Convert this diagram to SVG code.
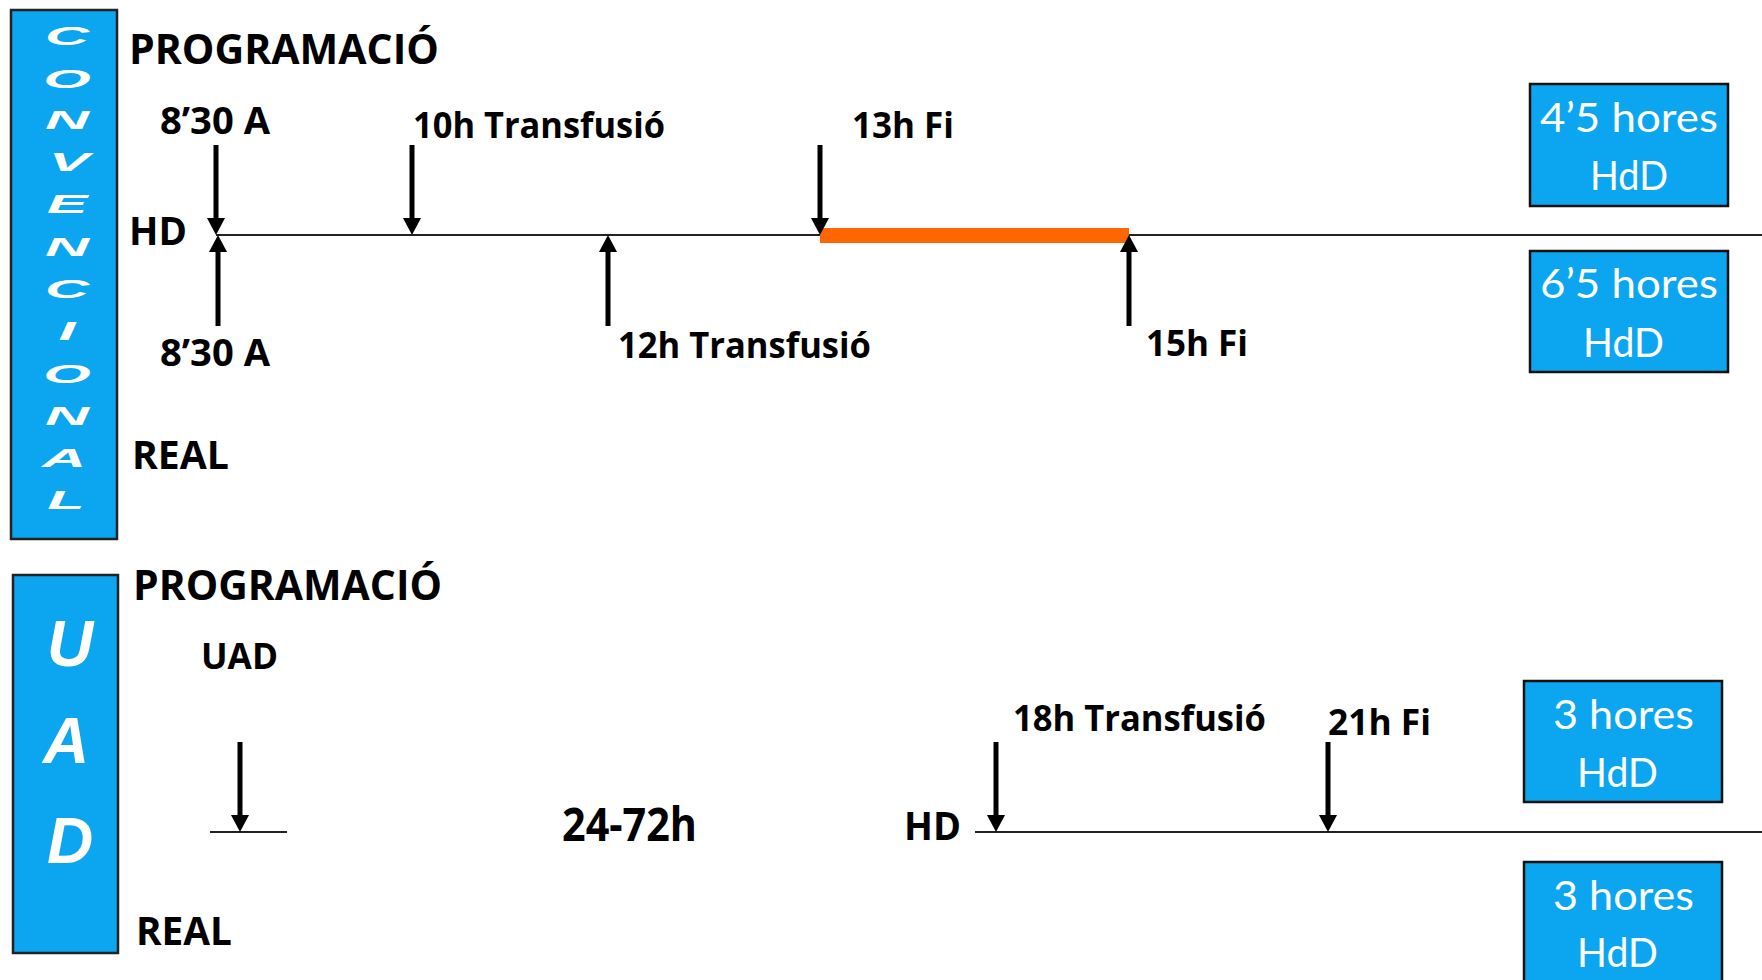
<svg xmlns="http://www.w3.org/2000/svg" width="1762" height="980" viewBox="0 0 1762 980">
<style>
.lbl{font-family:"Open Sans",Lato,"Liberation Sans",sans-serif;font-weight:bold;fill:#000}
.side{fill:#0BA6EF;stroke:#222;stroke-width:2.5}
.vl{font-family:"Liberation Sans",Arial,sans-serif;font-weight:bold;font-style:italic;fill:#fff;text-anchor:middle}
.dur{fill:#0BA6EF;stroke:#111;stroke-width:2.5}
.dt{font-family:Lato,"Liberation Sans",sans-serif;fill:#fff;font-size:41px}
.tl{stroke:#222;stroke-width:2;fill:none}
.arr{stroke:#000;stroke-width:5;fill:none;marker-end:url(#ah)}
</style>
<defs>
<marker id="ah" markerUnits="userSpaceOnUse" markerWidth="17" markerHeight="18" viewBox="0 0 17 18" refX="0" refY="9" orient="auto">
<path d="M0,0 L17,9 L0,18 Z" fill="#000"/>
</marker>
</defs>
<rect width="1762" height="980" fill="#fff"/>

<g id="conv-box">
<rect class="side" x="11" y="10" width="106" height="529"/>
<g font-size="26">
<text class="vl" transform="translate(67,45) scale(2.35,1)">C</text>
<text class="vl" transform="translate(67,88) scale(2.35,1)">O</text>
<text class="vl" transform="translate(67,129) scale(2.35,1)">N</text>
<text class="vl" transform="translate(69,171) scale(2.35,1)">V</text>
<text class="vl" transform="translate(67,213) scale(2.35,1)">E</text>
<text class="vl" transform="translate(67,256) scale(2.35,1)">N</text>
<text class="vl" transform="translate(67,298) scale(2.35,1)">C</text>
<text class="vl" transform="translate(67,340) scale(2.35,1)">I</text>
<text class="vl" transform="translate(67,383) scale(2.35,1)">O</text>
<text class="vl" transform="translate(67,425) scale(2.35,1)">N</text>
<text class="vl" transform="translate(64,467) scale(2.35,1)">A</text>
<text class="vl" transform="translate(66,509) scale(2.35,1)">L</text>
</g>
</g>

<g id="uad-box">
<rect class="side" x="13" y="575" width="105" height="378"/>
<g font-size="64">
<text class="vl" x="70" y="666">U</text>
<text class="vl" x="66" y="763">A</text>
<text class="vl" x="70" y="863">D</text>
</g>
</g>

<g id="connectors">
<line class="tl" x1="216" y1="235" x2="1762" y2="235"/>
<rect x="820" y="228" width="309" height="15" fill="#FF6600"/>
<line class="tl" x1="210" y1="832" x2="287" y2="832"/>
<line class="tl" x1="975" y1="832" x2="1762" y2="832"/>
<line class="arr" x1="216" y1="145" x2="216" y2="218"/>
<line class="arr" x1="218" y1="326" x2="218" y2="252"/>
<line class="arr" x1="412" y1="145" x2="412" y2="218"/>
<line class="arr" x1="608" y1="326" x2="608" y2="252"/>
<line class="arr" x1="820" y1="145" x2="820" y2="218"/>
<line class="arr" x1="1129" y1="326" x2="1129" y2="252"/>
<line class="arr" x1="240" y1="742" x2="240" y2="815"/>
<line class="arr" x1="996" y1="742" x2="996" y2="815"/>
<line class="arr" x1="1328" y1="742" x2="1328" y2="815"/>
</g>

<g id="labels-conv">
<text class="lbl" x="129" y="64" font-size="42" textLength="310" lengthAdjust="spacingAndGlyphs">PROGRAMACIÓ</text>
<text class="lbl" x="160" y="134" font-size="37" textLength="110" lengthAdjust="spacingAndGlyphs">8’30 A</text>
<text class="lbl" x="129" y="245" font-size="40" textLength="58" lengthAdjust="spacingAndGlyphs">HD</text>
<text class="lbl" x="160" y="366" font-size="37" textLength="110" lengthAdjust="spacingAndGlyphs">8’30 A</text>
<text class="lbl" x="132" y="469" font-size="39" textLength="97" lengthAdjust="spacingAndGlyphs">REAL</text>
<text class="lbl" x="413" y="138" font-size="35" textLength="252" lengthAdjust="spacingAndGlyphs">10h Transfusió</text>
<text class="lbl" x="852" y="138" font-size="35" textLength="102" lengthAdjust="spacingAndGlyphs">13h Fi</text>
<text class="lbl" x="618" y="358" font-size="35" textLength="253" lengthAdjust="spacingAndGlyphs">12h Transfusió</text>
<text class="lbl" x="1146" y="356" font-size="35" textLength="102" lengthAdjust="spacingAndGlyphs">15h Fi</text>
</g>

<g id="labels-uad">
<text class="lbl" x="133" y="600" font-size="42" textLength="309" lengthAdjust="spacingAndGlyphs">PROGRAMACIÓ</text>
<text class="lbl" x="201" y="669" font-size="35" textLength="77" lengthAdjust="spacingAndGlyphs">UAD</text>
<text class="lbl" x="136" y="945" font-size="39" textLength="96" lengthAdjust="spacingAndGlyphs">REAL</text>
<text class="lbl" x="562" y="841" font-size="46" textLength="135" lengthAdjust="spacingAndGlyphs">24-72h</text>
<text class="lbl" x="904" y="840" font-size="39" textLength="57" lengthAdjust="spacingAndGlyphs">HD</text>
<text class="lbl" x="1013" y="731" font-size="36" textLength="253" lengthAdjust="spacingAndGlyphs">18h Transfusió</text>
<text class="lbl" x="1328" y="735" font-size="36" textLength="103" lengthAdjust="spacingAndGlyphs">21h Fi</text>
</g>

<g id="dur-conv-prog">
<rect class="dur" x="1530" y="84" width="198" height="122"/>
<text class="dt" x="1540" y="132" textLength="178" lengthAdjust="spacingAndGlyphs">4’5 hores</text>
<text class="dt" x="1590" y="190" textLength="78" lengthAdjust="spacingAndGlyphs">HdD</text>
</g>
<g id="dur-conv-real">
<rect class="dur" x="1530" y="251" width="198" height="121"/>
<text class="dt" x="1540" y="298" textLength="178" lengthAdjust="spacingAndGlyphs">6’5 hores</text>
<text class="dt" x="1583" y="357" textLength="81" lengthAdjust="spacingAndGlyphs">HdD</text>
</g>
<g id="dur-uad-prog">
<rect class="dur" x="1524" y="681" width="198" height="121"/>
<text class="dt" x="1553" y="729" textLength="141" lengthAdjust="spacingAndGlyphs">3 hores</text>
<text class="dt" x="1577" y="787" textLength="81" lengthAdjust="spacingAndGlyphs">HdD</text>
</g>
<g id="dur-uad-real">
<rect class="dur" x="1524" y="862" width="198" height="130"/>
<text class="dt" x="1553" y="910" textLength="141" lengthAdjust="spacingAndGlyphs">3 hores</text>
<text class="dt" x="1577" y="967" textLength="81" lengthAdjust="spacingAndGlyphs">HdD</text>
</g>
</svg>
